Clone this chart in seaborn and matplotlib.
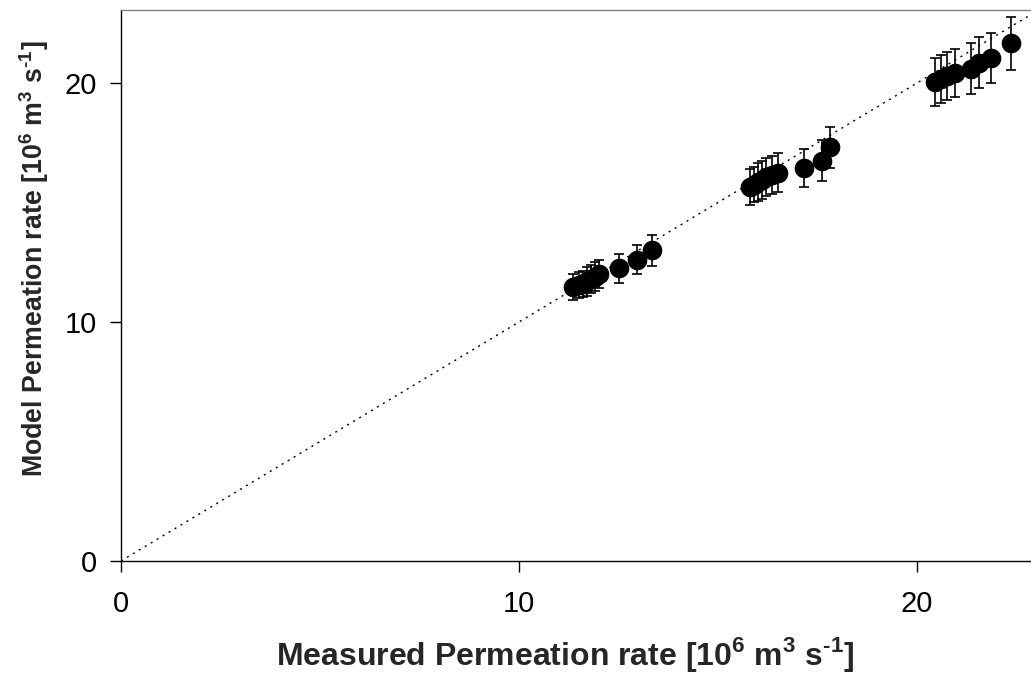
import matplotlib
matplotlib.use("Agg")
import matplotlib.pyplot as plt
import seaborn as sns
import pandas as pd

measured = [11.35, 11.5, 11.6, 11.7, 11.8, 11.9, 12.0, 12.5, 12.95, 13.35,
            15.8, 15.9, 16.0, 16.1, 16.2, 16.35, 16.5, 17.15, 17.6, 17.8,
            20.45, 20.6, 20.75, 20.95, 21.35, 21.55, 21.85, 22.35]
model = [11.45, 11.55, 11.6, 11.7, 11.8, 11.9, 12.0, 12.25, 12.6, 13.0,
         15.65, 15.75, 15.85, 15.95, 16.05, 16.15, 16.25, 16.45, 16.75, 17.3,
         20.05, 20.15, 20.3, 20.4, 20.6, 20.85, 21.05, 21.65]
errors = [0.55, 0.55, 0.55, 0.6, 0.6, 0.6, 0.6, 0.6, 0.6, 0.65,
          0.75, 0.75, 0.8, 0.8, 0.8, 0.8, 0.8, 0.8, 0.85, 0.85,
          1.0, 1.0, 1.0, 1.0, 1.05, 1.05, 1.05, 1.1]
xticks = [0, 10, 20]
yticks = [0, 10, 20]
xlabel = "Measured Permeation rate [10$^\\mathbf{6}$ m$^\\mathbf{3}$ s$^\\mathbf{\u20101}$]"
ylabel = "Model Permeation rate [10$^\\mathbf{6}$ m$^\\mathbf{3}$ s$^\\mathbf{\u20101}$]"

df = pd.DataFrame({"measured": measured, "model": model, "err": errors})

sns.set_theme(style="white")
plt.rcParams['font.family'] = ['Liberation Sans', 'DejaVu Sans']
plt.rcParams['mathtext.fontset'] = 'custom'
plt.rcParams['mathtext.rm'] = 'Liberation Sans'
plt.rcParams['mathtext.bf'] = 'Liberation Sans:bold'

W, H = 1031, 673
fig = plt.figure(figsize=(W / 100, H / 100), dpi=100)
ax = fig.add_axes([121 / W, (H - 561) / H, (W - 121) / W, (561 - 10) / H])

xmax, ymax = 22.86, 23.05
ax.plot([0, 23.5], [0, 23.5], linestyle=(0, (1.5, 3.5)), color='black', lw=1.0, zorder=1)
ax.errorbar(df["measured"], df["model"], yerr=df["err"], fmt='none', ecolor='black',
            elinewidth=1.2, capsize=3.6, capthick=1.2, zorder=2)
sns.scatterplot(data=df, x="measured", y="model", ax=ax, color='black', s=200,
                edgecolor='black', linewidth=0, zorder=3, legend=False)

ax.set_xlim(0, xmax)
ax.set_ylim(0, ymax)
ax.set_xticks(xticks)
ax.set_yticks(yticks)
ax.tick_params(axis='both', direction='out', length=8, width=1, color='black',
               labelsize=21, labelcolor='black', bottom=True, left=True)
ax.tick_params(axis='x', pad=13)
ax.tick_params(axis='y', pad=9.5)
for s in ['left', 'bottom']:
    ax.spines[s].set_color('black')
    ax.spines[s].set_linewidth(1.0)
ax.spines['top'].set_color('#808080')
ax.spines['top'].set_linewidth(1.0)
ax.spines['right'].set_visible(False)

ax.set_xlabel(xlabel, fontsize=23, fontweight='bold')
ax.xaxis.set_label_coords(565 / W, 1 - 665 / H, transform=fig.transFigure)
ax.xaxis.label.set_verticalalignment('baseline')
ax.xaxis.label.set_horizontalalignment('center')

ax.set_ylabel(ylabel, fontsize=19.3, fontweight='bold')
ax.yaxis.set_label_coords(17 / W, 1 - 259 / H, transform=fig.transFigure)
ax.yaxis.label.set_rotation_mode('default')
ax.yaxis.label.set_verticalalignment('center')
ax.yaxis.label.set_horizontalalignment('left')

fig.savefig("out.png", dpi=100)
